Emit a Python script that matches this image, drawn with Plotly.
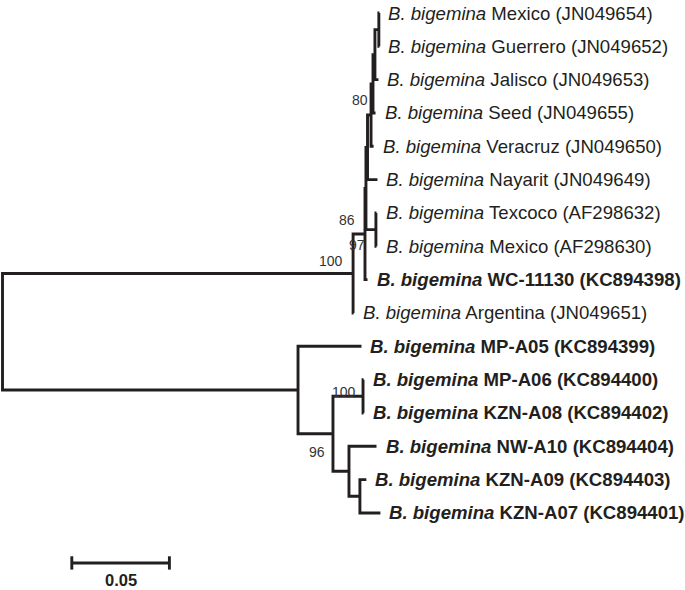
import plotly.graph_objects as go

# ---------------- data ----------------
leaf_names = [
    "Mexico (JN049654)", "Guerrero (JN049652)", "Jalisco (JN049653)", "Seed (JN049655)",
    "Veracruz (JN049650)", "Nayarit (JN049649)", "Texcoco (AF298632)", "Mexico (AF298630)",
    "WC-11130 (KC894398)", "Argentina (JN049651)", "MP-A05 (KC894399)", "MP-A06 (KC894400)",
    "KZN-A08 (KC894402)", "NW-A10 (KC894404)", "KZN-A09 (KC894403)", "KZN-A07 (KC894401)",
]
leaf_bold = [0, 0, 0, 0, 0, 0, 0, 0, 1, 0, 1, 1, 1, 1, 1, 1]
leaf_parent = ["N1", "N1", "N2", "N3", "N4", "N5", "D", "D", "B", "A", "E", "G", "G", "H", "I", "I"]
leaf_length = [0.0003, 0.0003, 0.0018, 0.0013, 0.0013, 0.0051, 0.0003, 0.0003,
               0.0013, 0.0003, 0.0325, 0.0003, 0.0003, 0.0141, 0.0033, 0.0105]

internal_nodes = ["root", "A", "B", "C", "N5", "N4", "N3", "N2", "N1", "D", "E", "F", "G", "H", "I"]
internal_parent = [None, "root", "A", "B", "C", "N5", "N4", "N3", "N2", "C", "root", "E", "F", "F", "H"]
internal_length = [0.0, 0.1796, 0.0061, 0.0005, 0.0008, 0.0018, 0.0010, 0.0010, 0.0020,
                   0.0051, 0.1514, 0.0179, 0.0154, 0.0082, 0.0056]

support_nodes = ["A", "B", "D", "N4", "G", "F"]
support_values = [100, 86, 97, 80, 100, 96]

scale_value = 0.05
species = "B. bigemina"

# ---------------- styles ----------------
INK = "#231f20"
LW = 2.9
# pixel offsets (xshift, yshift) of each support label relative to its node
support_offsets = {"A": (-8, 13), "B": (-8, 14), "D": (-9, -15), "N4": (-1, 15),
                   "G": (-5, 4), "F": (-6, -18)}

# ---------------- tree layout ----------------
children = {n: [] for n in internal_nodes}
parent_of, length_of = {}, {}
for n, p, l in zip(internal_nodes, internal_parent, internal_length):
    parent_of[n] = p
    length_of[n] = l
    if p is not None:
        children[p].append(n)
for i, (p, l) in enumerate(zip(leaf_parent, leaf_length)):
    key = ("leaf", i)
    parent_of[key] = p
    length_of[key] = l
    children[p].append(key)

depth, ypos = {}, {}


def layout(node, d):
    depth[node] = d
    if isinstance(node, tuple):
        ypos[node] = node[1]
        return ypos[node]
    ys = [layout(c, d + length_of[c]) for c in children[node]]
    ypos[node] = (min(ys) + max(ys)) / 2
    return ypos[node]


layout("root", 0.0)

xs, ys = [], []
for n in internal_nodes:
    ch = sorted(children[n], key=lambda c: ypos[c])
    top, bot = ch[0], ch[-1]
    xs += [depth[top], depth[n], depth[n], depth[bot], None]
    ys += [ypos[top], ypos[top], ypos[bot], ypos[bot], None]
    for c in ch[1:-1]:
        xs += [depth[n], depth[c], None]
        ys += [ypos[c], ypos[c], None]

fig = go.Figure()
fig.add_trace(go.Scatter(x=xs, y=ys, mode="lines",
                         line=dict(color=INK, width=LW, shape="linear"),
                         hoverinfo="skip", showlegend=False))

# scale bar
sb_x0 = 0.0355
sb_y = 16.5
fig.add_trace(go.Scatter(
    x=[sb_x0, sb_x0 + scale_value, None, sb_x0, sb_x0, None, sb_x0 + scale_value, sb_x0 + scale_value],
    y=[sb_y, sb_y, None, sb_y - 0.2, sb_y + 0.2, None, sb_y - 0.2, sb_y + 0.2],
    mode="lines", line=dict(color=INK, width=LW), hoverinfo="skip", showlegend=False))

annotations = []
for i, name in enumerate(leaf_names):
    key = ("leaf", i)
    txt = f"<i>{species}</i> {name}"
    if leaf_bold[i]:
        txt = f"<b>{txt}</b>"
    annotations.append(dict(x=depth[key], y=ypos[key], text=txt, xanchor="left",
                            yanchor="middle", xshift=7, yshift=0, showarrow=False,
                            font=dict(family="Arial", size=18.6, color=INK)))

for n, v in zip(support_nodes, support_values):
    dx, dy = support_offsets[n]
    annotations.append(dict(x=depth[n], y=ypos[n], text=str(v), xanchor="right",
                            yanchor="middle", xshift=dx, yshift=dy, showarrow=False,
                            font=dict(family="Arial", size=14, color="#333333")))

annotations.append(dict(x=sb_x0 + scale_value / 2, y=17.02, text=f"<b>{scale_value:.2f}</b>",
                        xanchor="center", yanchor="middle", showarrow=False,
                        font=dict(family="Arial", size=16.5, color=INK)))

W, H = 685, 590
PX_PER_UNIT = 1952
ROOT_PX = 2.5
TOP_PX, STEP_PX = 13, 33.33

fig.update_layout(
    width=W, height=H, margin=dict(l=0, r=0, t=0, b=0),
    paper_bgcolor="white", plot_bgcolor="white",
    xaxis=dict(range=[-ROOT_PX / PX_PER_UNIT, (W - ROOT_PX) / PX_PER_UNIT], visible=False),
    yaxis=dict(range=[(H - TOP_PX) / STEP_PX, -TOP_PX / STEP_PX], visible=False),
    annotations=annotations,
)

fig.write_html("out.html", config={"displayModeBar": False},
               post_script="document.body.style.margin='0';document.body.style.overflow='hidden';")
